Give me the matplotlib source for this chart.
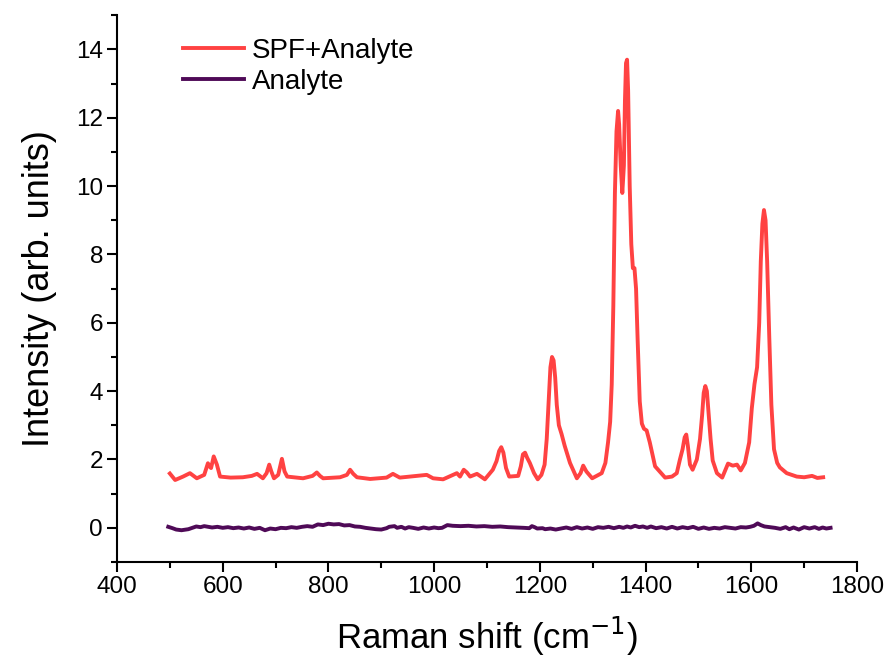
#!/usr/bin/env python3
"""Raman spectra: SPF+Analyte vs Analyte alone."""
import matplotlib

matplotlib.use("Agg")
import matplotlib.pyplot as plt
from matplotlib.ticker import MultipleLocator

plt.rcParams["font.family"] = ["Liberation Sans", "DejaVu Sans"]

RED = "#FF4242"
PURPLE = "#4F0A57"

# SPF+Analyte spectrum (Raman shift, intensity).
# Ten values per row in both lists so they line up.
spf_shift = [
    500, 510, 525, 538, 551, 565, 572, 576, 578, 583,
    589, 595, 615, 638, 655, 665, 676, 683, 688, 692,
    697, 705, 712, 717, 722, 752, 770, 778, 784, 790,
    822, 835, 841, 847, 854, 879, 910, 922, 935, 986,
    998, 1017, 1043, 1049, 1056, 1062, 1068, 1081, 1096, 1111,
    1118, 1123, 1127, 1131, 1136, 1142, 1159, 1164, 1168, 1172,
    1176, 1181, 1189, 1196, 1203, 1209, 1213, 1217, 1220, 1223,
    1226, 1229, 1232, 1236, 1241, 1247, 1257, 1270, 1277, 1282,
    1288, 1299, 1317, 1324, 1329, 1333, 1336, 1339, 1342, 1345,
    1348, 1350, 1353, 1356, 1359, 1361, 1363, 1365, 1367, 1370,
    1373, 1376, 1379, 1382, 1385, 1389, 1393, 1397, 1402, 1408,
    1418, 1437, 1450, 1459, 1465, 1470, 1474, 1477, 1480, 1484,
    1489, 1497, 1503, 1507, 1510, 1513, 1516, 1519, 1523, 1527,
    1535, 1545, 1556, 1565, 1573, 1580, 1588, 1596, 1601, 1606,
    1611, 1615, 1618, 1621, 1624, 1627, 1630, 1634, 1638, 1643,
    1649, 1654, 1667, 1686, 1700, 1715, 1725, 1736,
]
spf_intensity = [
    1.59, 1.40, 1.50, 1.60, 1.45, 1.55, 1.89, 1.78, 1.75, 2.09,
    1.85, 1.50, 1.47, 1.48, 1.52, 1.58, 1.45, 1.60, 1.85, 1.65,
    1.45, 1.55, 2.02, 1.65, 1.50, 1.45, 1.52, 1.62, 1.52, 1.45,
    1.48, 1.55, 1.70, 1.58, 1.48, 1.43, 1.47, 1.58, 1.47, 1.55,
    1.45, 1.42, 1.60, 1.50, 1.70, 1.62, 1.50, 1.58, 1.42, 1.70,
    1.95, 2.25, 2.36, 2.20, 1.75, 1.50, 1.52, 1.80, 2.15, 2.20,
    2.05, 1.90, 1.60, 1.42, 1.55, 1.85, 2.60, 3.80, 4.70, 5.00,
    4.90, 4.40, 3.60, 3.00, 2.75, 2.40, 1.90, 1.45, 1.60, 1.82,
    1.65, 1.45, 1.60, 1.90, 2.50, 3.10, 4.20, 6.50, 9.80, 11.6,
    12.2, 11.8, 10.6, 9.80, 10.6, 12.5, 13.6, 13.7, 12.8, 10.0,
    8.30, 7.60, 7.60, 7.00, 5.50, 3.70, 3.05, 2.90, 2.85, 2.50,
    1.80, 1.47, 1.50, 1.60, 2.00, 2.30, 2.65, 2.73, 2.40, 1.85,
    1.70, 2.00, 2.60, 3.30, 3.95, 4.15, 4.00, 3.40, 2.60, 1.97,
    1.60, 1.47, 1.88, 1.82, 1.85, 1.68, 1.90, 2.50, 3.50, 4.20,
    4.70, 6.00, 7.80, 8.90, 9.30, 9.00, 7.80, 5.60, 3.60, 2.30,
    1.90, 1.77, 1.60, 1.50, 1.48, 1.52, 1.46, 1.48,
]

# Analyte alone, flat near zero.
ana_shift = [
    497, 505, 512, 522, 535, 550, 558, 565, 580, 590,
    600, 610, 620, 630, 640, 650, 660, 670, 680, 690,
    700, 710, 720, 730, 740, 750, 760, 770, 780, 790,
    800, 810, 820, 830, 840, 850, 860, 870, 880, 890,
    900, 910, 915, 925, 930, 938, 945, 952, 960, 970,
    980, 990, 1000, 1008, 1015, 1025, 1035, 1050, 1065, 1080,
    1095, 1110, 1125, 1140, 1155, 1170, 1180, 1185, 1190, 1195,
    1205, 1210, 1220, 1230, 1240, 1250, 1260, 1270, 1280, 1290,
    1300, 1310, 1320, 1330, 1340, 1350, 1358, 1365, 1372, 1380,
    1388, 1395, 1403, 1410, 1420, 1430, 1440, 1450, 1460, 1470,
    1480, 1490, 1500, 1510, 1520, 1530, 1540, 1550, 1560, 1570,
    1580, 1590, 1598, 1605, 1612, 1618, 1625, 1635, 1645, 1655,
    1665, 1672, 1680, 1690, 1700, 1710, 1720, 1728, 1735, 1742,
    1750,
]
ana_intensity = [
    0.03, -0.01, -0.05, -0.07, -0.04, 0.04, 0.02, 0.05, 0.01, 0.03,
    0.00, 0.02, -0.01, 0.01, -0.02, 0.01, -0.03, 0.00, -0.07, -0.02,
    -0.04, 0.00, -0.01, 0.02, 0.00, 0.03, 0.05, 0.03, 0.10, 0.08,
    0.12, 0.10, 0.11, 0.07, 0.08, 0.04, 0.03, 0.00, -0.02, -0.04,
    -0.05, -0.01, 0.03, 0.05, 0.00, 0.03, -0.02, 0.02, 0.00, -0.03,
    0.01, -0.02, 0.01, -0.01, 0.00, 0.08, 0.06, 0.05, 0.06, 0.04,
    0.05, 0.03, 0.04, 0.02, 0.01, 0.00, -0.01, 0.05, 0.02, -0.02,
    -0.01, -0.04, -0.02, -0.05, -0.02, 0.01, -0.03, 0.02, -0.02, 0.01,
    -0.03, 0.02, 0.00, 0.03, -0.01, 0.03, 0.00, 0.04, 0.01, 0.06,
    0.02, 0.04, 0.00, 0.04, -0.01, 0.02, -0.02, 0.03, -0.02, 0.02,
    -0.01, 0.03, -0.03, 0.01, -0.03, 0.00, -0.02, 0.02, 0.00, -0.02,
    0.02, 0.01, 0.03, 0.06, 0.13, 0.08, 0.04, 0.02, 0.00, -0.03,
    0.02, -0.04, 0.01, -0.05, 0.02, -0.02, 0.02, -0.03, 0.01, -0.02,
    0.00,
]


def main():
    fig = plt.figure(figsize=(8.89, 6.64), dpi=100)
    ax = fig.add_axes([0.1316, 0.1536, 0.8324, 0.8234])

    ax.plot(spf_shift, spf_intensity, color=RED, lw=2.8, label="SPF+Analyte",
            solid_joinstyle="round")
    ax.plot(ana_shift, ana_intensity, color=PURPLE, lw=2.8, label="Analyte",
            solid_joinstyle="round")

    ax.set_xlim(400, 1800)
    ax.set_ylim(-1, 15)
    ax.xaxis.set_major_locator(MultipleLocator(200))
    ax.xaxis.set_minor_locator(MultipleLocator(100))
    ax.yaxis.set_major_locator(MultipleLocator(2))
    ax.yaxis.set_minor_locator(MultipleLocator(1))

    for side in ("top", "right"):
        ax.spines[side].set_visible(False)
    for side in ("left", "bottom"):
        ax.spines[side].set_linewidth(1.5)
    ax.tick_params(which="major", direction="out", length=7, width=1.5,
                   labelsize=17.5, pad=3)
    ax.tick_params(which="minor", direction="out", length=4, width=1.5)

    ax.set_xlabel(r"Raman shift (cm$^{-1}$)", fontsize=25, labelpad=12)
    ax.set_ylabel("Intensity (arb. units)", fontsize=26, labelpad=14)

    ax.legend(loc="upper left", bbox_to_anchor=(0.055, 1.005), frameon=False,
              fontsize=20, handlelength=2.2, handletextpad=0.3,
              labelspacing=0.2)

    fig.savefig("out.png", dpi=100)


if __name__ == "__main__":
    main()
